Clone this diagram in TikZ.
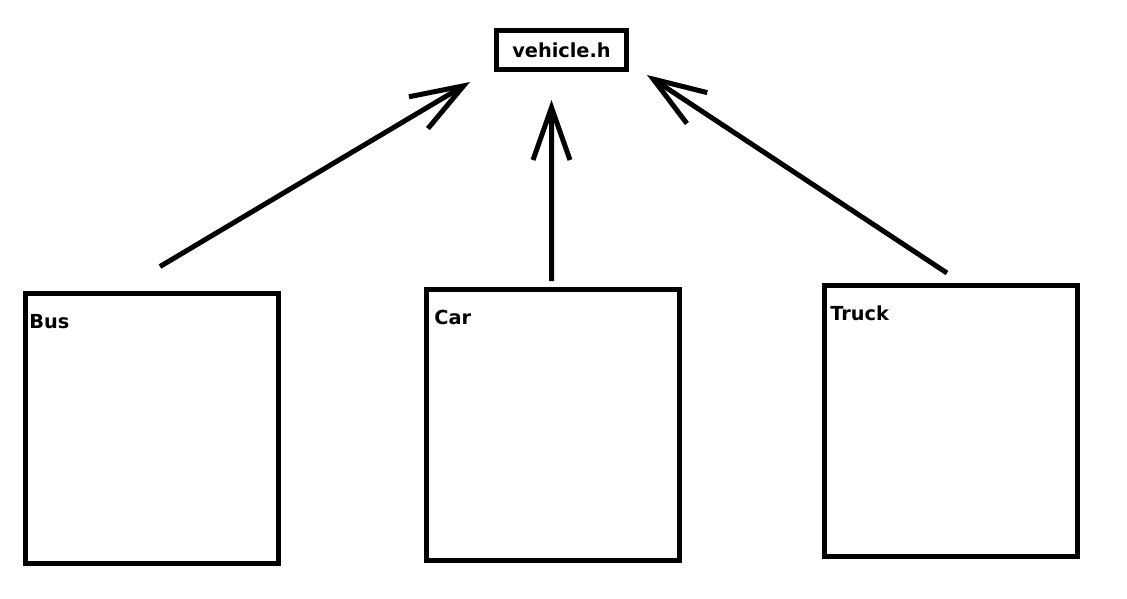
\documentclass[tikz,border=0pt]{standalone}
\usepackage{fontspec}
\setsansfont{DejaVu Sans}
\usepackage{tikz}
\usetikzlibrary{positioning,arrows.meta}

\begin{document}
\begin{tikzpicture}[
    x=0.02cm, y=-0.02cm,
    every node/.style={font=\sffamily\bfseries\fontsize{11}{13}\selectfont},
    classbox/.style={rectangle, draw, line width=0.1cm, minimum width=5.06cm, minimum height=5.42cm},
    headerbox/.style={rectangle, draw, line width=0.1cm, minimum width=2.6cm, minimum height=0.78cm, inner sep=0pt},
    boxlabel/.style={anchor=base west, inner sep=0pt},
    incl/.style={draw, line width=0.1cm, -{Straight Barb[length=1.05cm, width=0.74cm]}}
  ]

\useasboundingbox[fill=white] (0,0) rectangle (1127,599);

% header and the three classes
\node[headerbox] (veh) at (561.5,50) {vehicle.h};
\node[classbox] (bus) at (152,428.5) {};
\node[classbox] (car) at (553,425) {};
\node[classbox] (truck) at (951,421) {};

\node[boxlabel] (buslbl) at ([shift={(6,38)}]bus.north west) {Bus};
\node[boxlabel] (carlbl) at ([shift={(10,37)}]car.north west) {Car};
\node[boxlabel] (trucklbl) at ([shift={(8,37)}]truck.north west) {Truck};

% includes
\draw[incl] ([shift={(8,-24)}]bus.north) -- ([shift={(-24,10)}]veh.south west);
\draw[incl] ([shift={(-1.5,-6)}]car.north) -- ([shift={(-10,28)}]veh.south);
\draw[incl] ([shift={(-4,-10)}]truck.north) -- ([shift={(18,3)}]veh.south east);

\end{tikzpicture}
\end{document}
